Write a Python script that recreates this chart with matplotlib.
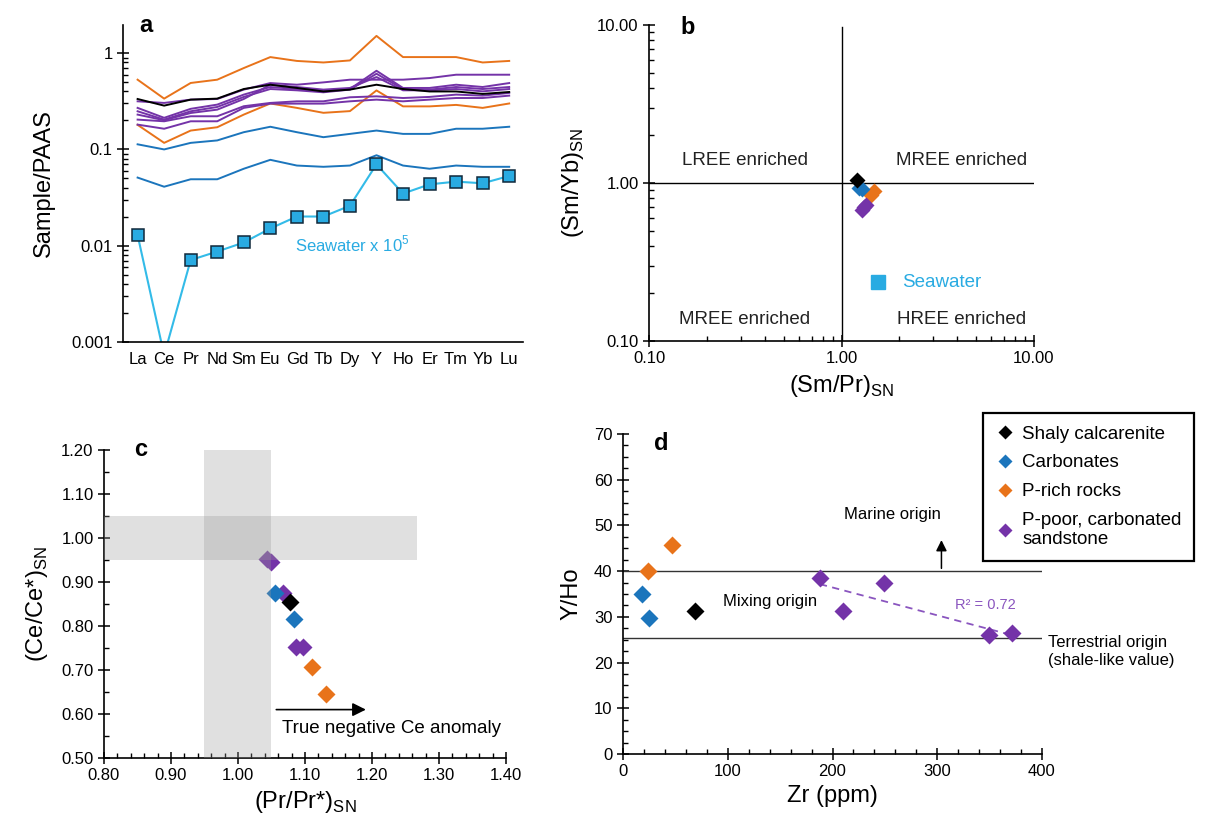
import numpy as np
import matplotlib.pyplot as plt
from matplotlib.lines import Line2D
from matplotlib.ticker import MultipleLocator, LogLocator, FuncFormatter, NullFormatter

plt.rcParams['font.family'] = ['Liberation Sans', 'DejaVu Sans']
plt.rcParams['mathtext.fontset'] = 'custom'
plt.rcParams['mathtext.rm'] = 'Liberation Sans'

# ---- panel a: PAAS-normalised REE patterns ----
ree = ['La', 'Ce', 'Pr', 'Nd', 'Sm', 'Eu', 'Gd', 'Tb', 'Dy', 'Y', 'Ho', 'Er', 'Tm', 'Yb', 'Lu']

prich_1 = [0.53, 0.337, 0.49, 0.53, 0.70, 0.91, 0.83, 0.80, 0.84, 1.51, 0.91, 0.91, 0.91, 0.80, 0.83]
prich_2 = [0.18, 0.117, 0.157, 0.17, 0.23, 0.30, 0.27, 0.24, 0.25, 0.41, 0.28, 0.28, 0.29, 0.27, 0.30]
carb_1 = [0.113, 0.10, 0.117, 0.124, 0.151, 0.172, 0.151, 0.134, 0.145, 0.157, 0.145, 0.145, 0.164, 0.164, 0.172]
carb_2 = [0.051, 0.041, 0.049, 0.049, 0.063, 0.078, 0.068, 0.066, 0.068, 0.087, 0.068, 0.063, 0.068, 0.066, 0.066]
shaly = [0.334, 0.285, 0.329, 0.337, 0.424, 0.47, 0.435, 0.40, 0.418, 0.47, 0.424, 0.40, 0.40, 0.377, 0.395]
ppoor = [
    [0.316, 0.304, 0.329, 0.334, 0.418, 0.489, 0.470, 0.497, 0.530, 0.530, 0.530, 0.551, 0.597, 0.597, 0.597],
    [0.270, 0.213, 0.264, 0.292, 0.371, 0.445, 0.424, 0.411, 0.424, 0.656, 0.435, 0.435, 0.470, 0.445, 0.489],
    [0.249, 0.204, 0.249, 0.276, 0.351, 0.424, 0.411, 0.392, 0.418, 0.611, 0.424, 0.418, 0.445, 0.424, 0.445],
    [0.230, 0.201, 0.239, 0.259, 0.334, 0.470, 0.445, 0.418, 0.435, 0.565, 0.411, 0.411, 0.424, 0.401, 0.424],
    [0.204, 0.196, 0.221, 0.221, 0.281, 0.304, 0.316, 0.316, 0.348, 0.356, 0.342, 0.351, 0.371, 0.362, 0.386],
    [0.181, 0.164, 0.196, 0.196, 0.270, 0.299, 0.299, 0.299, 0.316, 0.329, 0.316, 0.329, 0.342, 0.342, 0.362],
]
seawater = [0.0129, 0.00073, 0.0071, 0.0087, 0.0108, 0.0151, 0.0201, 0.0201, 0.026, 0.070,
            0.0348, 0.0434, 0.0463, 0.0445, 0.053]

# ---- panel b: (Sm/Pr)SN vs (Sm/Yb)SN ----
b_shaly_x, b_shaly_y = [1.21], [1.04]
b_carb_x, b_carb_y = [1.23, 1.28], [0.93, 0.91]
b_prich_x, b_prich_y = [1.47, 1.42], [0.89, 0.84]
b_ppoor_x, b_ppoor_y = [1.34, 1.31, 1.28], [0.73, 0.70, 0.67]
b_sw_x, b_sw_y = [1.55], [0.236]

# ---- panel c: Pr/Pr* vs Ce/Ce* ----
c_shaly_x, c_shaly_y = [1.077], [0.855]
c_carb_x, c_carb_y = [1.055, 1.084], [0.875, 0.815]
c_prich_x, c_prich_y = [1.110, 1.132], [0.706, 0.646]
c_ppoor_x = [1.044, 1.050, 1.067, 1.086, 1.097]
c_ppoor_y = [0.952, 0.946, 0.875, 0.753, 0.753]

# ---- panel d: Zr vs Y/Ho ----
d_shaly_x, d_shaly_y = [69], [31.2]
d_carb_x, d_carb_y = [18, 25], [35.1, 29.8]
d_prich_x, d_prich_y = [24, 47], [40.1, 45.8]
d_ppoor_x = [188, 210, 249, 349, 371]
d_ppoor_y = [38.6, 31.3, 37.5, 26.0, 26.4]

c_black = '#000000'
c_blue = '#1b75bc'
c_orange = '#e8731a'
c_purple = '#7433a8'
c_sw = '#29abe2'

W, H = 1205, 817
LAB = 17      # axis label size
NOTE = 13.5   # annotation size


def box(l, t, r, b):
    return [l / W, 1 - b / H, (r - l) / W, (b - t) / H]


def style(ax):
    ax.spines['top'].set_visible(False)
    ax.spines['right'].set_visible(False)
    for s in ['left', 'bottom']:
        ax.spines[s].set_linewidth(1.2)
    ax.tick_params(which='major', direction='inout', length=8, width=1.1, labelsize=12)
    ax.tick_params(which='minor', direction='in', length=3.5, width=1)


fig = plt.figure(figsize=(W / 100, H / 100), dpi=100)

# panel a
axA = fig.add_axes(box(123, 25, 523, 342))
style(axA)
xs = np.arange(len(ree))
for v in [prich_1, prich_2]:
    axA.plot(xs, v, color=c_orange, lw=1.4)
for v in [carb_1, carb_2]:
    axA.plot(xs, v, color=c_blue, lw=1.4)
for v in ppoor:
    axA.plot(xs, v, color=c_purple, lw=1.4)
axA.plot(xs, shaly, color=c_black, lw=1.4)
axA.plot(xs, seawater, color='#33bbe8', lw=1.5, marker='s', ms=8,
         mfc=c_sw, mec='#10283a', mew=1.1)
axA.set_yscale('log')
axA.set_ylim(0.001, 1.96)
axA.set_xlim(-0.55, 14.52)
axA.set_xticks(xs)
axA.set_xticklabels(ree)
axA.tick_params(axis='x', length=0, pad=7)
axA.yaxis.set_minor_locator(LogLocator(base=10, subs=np.arange(2, 10), numticks=10))
axA.yaxis.set_minor_formatter(NullFormatter())
axA.set_yticks([0.001, 0.01, 0.1, 1])
axA.set_yticklabels(['0.001', '0.01', '0.1', '1'])
axA.set_ylabel('Sample/PAAS', fontsize=LAB, labelpad=12)
axA.text(5.92, 0.0105, 'Seawater x 10$^5$', color=c_sw, fontsize=12, va='center')
axA.text(0.05, 1.92, 'a', fontsize=17, fontweight='bold', va='center')

# panel b
axB = fig.add_axes(box(649, 25, 1034, 341))
style(axB)
axB.set_xscale('log')
axB.set_yscale('log')
axB.set_xlim(0.1, 10)
axB.set_ylim(0.1, 10)
fmt2 = FuncFormatter(lambda v, p: '{:.2f}'.format(v))
axB.xaxis.set_major_formatter(fmt2)
axB.yaxis.set_major_formatter(fmt2)
axB.xaxis.set_minor_formatter(NullFormatter())
axB.yaxis.set_minor_formatter(NullFormatter())
axB.axhline(1, color='k', lw=1)
axB.plot([1, 1], [0.1, 9.7], color='k', lw=1)
mk = dict(marker='D', ms=8.5, ls='none', mec='none')
axB.plot(b_prich_x, b_prich_y, color=c_orange, **mk)
axB.plot(b_ppoor_x, b_ppoor_y, color=c_purple, **mk)
axB.plot(b_carb_x, b_carb_y, color=c_blue, **mk)
axB.plot(b_shaly_x, b_shaly_y, color=c_black, **mk)
axB.plot(b_sw_x, b_sw_y, color=c_sw, marker='s', ms=10, ls='none')
axB.text(2.07, 0.236, 'Seawater', color=c_sw, fontsize=NOTE, va='center')
for tx, ty, s in [(0.314, 1.38, 'LREE enriched'), (4.18, 1.38, 'MREE enriched'),
                  (0.314, 0.137, 'MREE enriched'), (4.18, 0.137, 'HREE enriched')]:
    axB.text(tx, ty, s, fontsize=NOTE, ha='center', va='center', color='#222222')
axB.set_xlabel('(Sm/Pr)$_{\\mathregular{SN}}$', fontsize=LAB, labelpad=5)
axB.set_ylabel('(Sm/Yb)$_{\\mathregular{SN}}$', fontsize=LAB, labelpad=8)
axB.text(0.145, 9.6, 'b', fontsize=17, fontweight='bold', va='center')

# panel c
axC = fig.add_axes(box(104, 450, 506, 758))
style(axC)
axC.set_xlim(0.8, 1.4)
axC.set_ylim(0.5, 1.2)
axC.xaxis.set_major_locator(MultipleLocator(0.1))
axC.xaxis.set_minor_locator(MultipleLocator(0.02))
axC.yaxis.set_major_locator(MultipleLocator(0.1))
axC.yaxis.set_minor_locator(MultipleLocator(0.05))
axC.xaxis.set_major_formatter(fmt2)
axC.yaxis.set_major_formatter(fmt2)
mk = dict(marker='D', ms=9, ls='none', mec='none', zorder=2)
axC.plot(c_prich_x, c_prich_y, color=c_orange, **mk)
axC.plot(c_ppoor_x, c_ppoor_y, color=c_purple, **mk)
axC.plot(c_carb_x, c_carb_y, color=c_blue, **mk)
axC.plot(c_shaly_x, c_shaly_y, color=c_black, **mk)
axC.axvspan(0.95, 1.05, color='#999999', alpha=0.3, lw=0, zorder=3)
axC.axhspan(0.95, 1.05, xmin=0, xmax=(1.267 - 0.8) / 0.6, color='#999999', alpha=0.3, lw=0, zorder=3)
axC.annotate('', xy=(1.195, 0.61), xytext=(1.053, 0.61),
             arrowprops=dict(arrowstyle='-|>', color='k', lw=1.2, mutation_scale=20))
axC.text(1.065, 0.568, 'True negative Ce anomaly', fontsize=NOTE, va='center')
axC.set_xlabel('(Pr/Pr*)$_{\\mathregular{SN}}$', fontsize=LAB, labelpad=4)
axC.set_ylabel('(Ce/Ce*)$_{\\mathregular{SN}}$', fontsize=LAB, labelpad=8)
axC.text(0.845, 1.2, 'c', fontsize=17, fontweight='bold', va='center')

# panel d
axD = fig.add_axes(box(623, 434, 1042, 754))
style(axD)
axD.set_xlim(0, 400)
axD.set_ylim(0, 70)
axD.xaxis.set_major_locator(MultipleLocator(100))
axD.xaxis.set_minor_locator(MultipleLocator(20))
axD.yaxis.set_major_locator(MultipleLocator(10))
axD.yaxis.set_minor_locator(MultipleLocator(2.5))
axD.axhline(40, color='#333333', lw=1)
axD.axhline(25.4, color='#333333', lw=1)
mk = dict(marker='D', ms=9, ls='none', mec='none', zorder=3)
axD.plot(d_prich_x, d_prich_y, color=c_orange, **mk)
axD.plot(d_carb_x, d_carb_y, color=c_blue, **mk)
axD.plot(d_shaly_x, d_shaly_y, color=c_black, **mk)
axD.plot(d_ppoor_x, d_ppoor_y, color=c_purple, **mk)
fit = np.polyfit(d_ppoor_x, d_ppoor_y, 1)
fx = np.array([min(d_ppoor_x), max(d_ppoor_x)])
axD.plot(fx, np.polyval(fit, fx), color='#8a55bf', lw=1.3, ls=(0, (4, 3)), zorder=2)
axD.text(346, 32.5, 'R² = 0.72', color='#8a55bf', fontsize=10.5, ha='center', va='center')
axD.annotate('', xy=(304, 47.4), xytext=(304, 40),
             arrowprops=dict(arrowstyle='-|>', color='k', lw=1.1, mutation_scale=16))
axD.text(257, 52.5, 'Marine origin', fontsize=12, ha='center', va='center')
axD.text(140, 33.3, 'Mixing origin', fontsize=12, ha='center', va='center')
axD.text(406, 22.4, 'Terrestrial origin\n(shale-like value)', fontsize=12, va='center',
         linespacing=1.3, clip_on=False)
axD.set_xlabel('Zr (ppm)', fontsize=LAB, labelpad=4)
axD.set_ylabel('Y/Ho', fontsize=LAB, labelpad=8)
axD.text(30, 68, 'd', fontsize=17, fontweight='bold', va='center')

handles = [Line2D([], [], marker='D', ls='none', ms=7.5, mec='none', color=c)
           for c in [c_black, c_blue, c_orange, c_purple]]
labels = ['Shaly calcarenite', 'Carbonates', 'P-rich rocks', 'P-poor, carbonated\nsandstone']
leg = fig.legend(handles, labels, loc='upper right', bbox_to_anchor=(1203 / W, 1 - 404 / H),
                 fontsize=13.5, frameon=True, fancybox=False, framealpha=1,
                 handletextpad=0.35, handlelength=1.1, borderpad=0.65, labelspacing=0.62)
leg.get_frame().set_edgecolor('k')
leg.get_frame().set_linewidth(1.6)

fig.savefig('out.png', dpi=100)
